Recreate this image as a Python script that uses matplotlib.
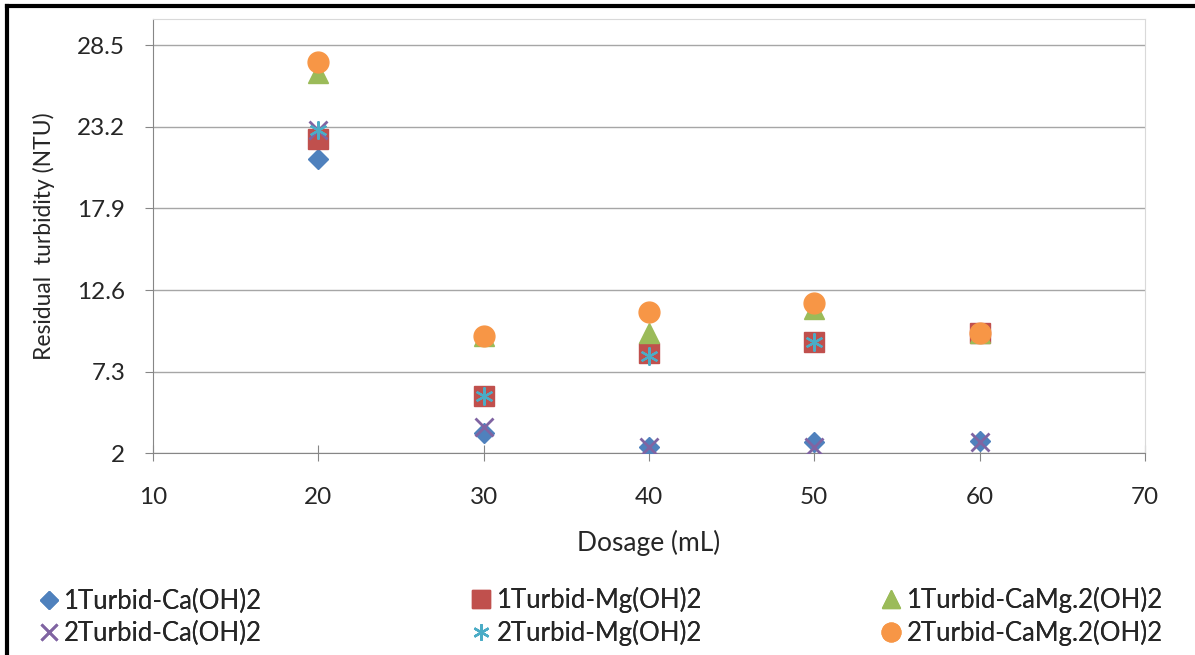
import matplotlib.pyplot as plt
from matplotlib.lines import Line2D

# dosage (mL)
dosage = [20, 30, 40, 50, 60]

# residual turbidity (NTU)
t1_ca = [21.1, 3.3, 2.4, 2.7, 2.8]
t1_mg = [22.4, 5.75, 8.5, 9.2, 9.8]
t1_camg = [26.7, 9.6, 9.8, 11.4, 9.8]
t2_ca = [23.0, 3.7, 2.4, 2.4, 2.7]
t2_mg = [23.0, 5.75, 8.3, 9.2, 9.8]
t2_camg = [27.4, 9.6, 11.2, 11.75, 9.8]

y_ticks = [2, 7.3, 12.6, 17.9, 23.2, 28.5]
y_tick_labels = ['2', '7.3', '12.6', '17.9', '23.2', '28.5']
x_ticks = [10, 20, 30, 40, 50, 60, 70]

plt.rcParams['font.family'] = ['Lato', 'DejaVu Sans']

fig = plt.figure(figsize=(11.95, 6.55), dpi=100)
ax = fig.add_axes([0.128, 0.308, 0.830, 0.663])

axis_col = '#868686'
grid_col = '#a6a6a6'
txt_col = '#262626'

ax.plot(dosage, t1_ca, 'D', color='#4F81BD', ms=10, ls='none', label='1Turbid-Ca(OH)2', zorder=3)
ax.plot(dosage, t1_mg, 's', color='#C0504D', ms=14, ls='none', label='1Turbid-Mg(OH)2', zorder=3)
ax.plot(dosage, t1_camg, '^', color='#9BBB59', ms=14, ls='none', label='1Turbid-CaMg.2(OH)2', zorder=3)
ax.plot(dosage, t2_ca, 'x', color='#8064A2', ms=13, mew=2, ls='none', label='2Turbid-Ca(OH)2', zorder=3)
ax.plot(dosage, t2_mg, marker=(6, 2, 0), color='#4BACC6', ms=13, mew=1.6, ls='none', label='2Turbid-Mg(OH)2', zorder=3)
ax.plot(dosage, t2_camg, 'o', color='#F79646', ms=15, ls='none', label='2Turbid-CaMg.2(OH)2', zorder=3)

ax.set_xlim(10, 70)
ax.set_ylim(2, 30.2)
ax.set_xticks(x_ticks)
ax.set_yticks(y_ticks)
ax.set_yticklabels(y_tick_labels)
ax.yaxis.grid(True, color=grid_col, lw=1)
ax.set_axisbelow(True)

for s in ['top', 'right']:
    ax.spines[s].set_color('#d9d9d9')
for s in ['left', 'bottom']:
    ax.spines[s].set_color(axis_col)
ax.tick_params(axis='both', colors=axis_col, labelcolor=txt_col, labelsize=17.5, length=6)
ax.tick_params(axis='x', direction='inout', length=12, pad=18)
ax.tick_params(axis='y', pad=14)

ax.set_xlabel('Dosage (mL)', fontsize=19, color=txt_col, labelpad=16)
ax.set_ylabel('Residual  turbidity (NTU)', fontsize=16.5, color=txt_col, labelpad=16)

# legend: three columns, each its own legend so columns sit like Excel's
h, l = ax.get_legend_handles_labels()
columns = [(0, 3), (1, 4), (2, 5)]
col_x = [0.030, 0.392, 0.735]
for (a, b), x0 in zip(columns, col_x):
    hs = [Line2D([], [], ls='none', marker=h[i].get_marker(), color=h[i].get_color(),
                 ms=h[i].get_markersize() * 0.9, mew=h[i].get_markeredgewidth()) for i in (a, b)]
    lg = fig.legend(hs, [l[a], l[b]], loc='lower left', bbox_to_anchor=(x0, 0.013),
                    frameon=False, fontsize=18.5, handletextpad=0.1, handlelength=1.0,
                    labelspacing=0.3, borderpad=0.0, borderaxespad=0, labelcolor=txt_col)
    fig.add_artist(lg)

# outer black frame (left & top)
fig.add_artist(Line2D([0.006, 0.006], [0, 0.991], transform=fig.transFigure, color='black', lw=3))
fig.add_artist(Line2D([0.006, 1.0], [0.991, 0.991], transform=fig.transFigure, color='black', lw=3))

fig.savefig('out.png', dpi=100)
